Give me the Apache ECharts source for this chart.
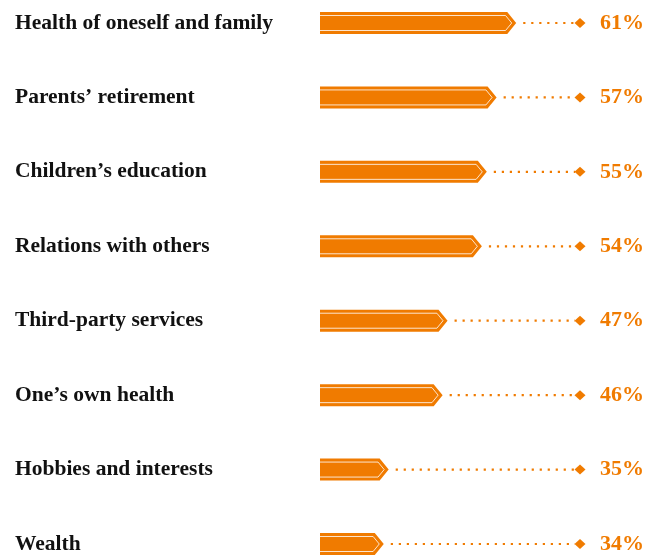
<!DOCTYPE html>
<html>
<head>
<meta charset="utf-8">
<script src="https://cdn.jsdelivr.net/npm/echarts@6/dist/echarts.min.js"></script>
<style>
  html, body { margin: 0; padding: 0; background: #fff; }
  #chart { width: 656px; height: 555px; }
</style>
</head>
<body>
<div id="chart"></div>
<script>
// Share of respondents naming each concern (%)
const categories = [
  'Health of oneself and family',
  'Parents\u2019 retirement',
  'Children\u2019s education',
  'Relations with others',
  'Third-party services',
  'One\u2019s own health',
  'Hobbies and interests',
  'Wealth'
];
const shares = [61, 57, 55, 54, 47, 46, 35, 34];

const ORANGE = '#F07B00';
const SERIF = '"Liberation Serif", "DejaVu Serif", serif';
const BAR_H = 22;
const ARROW = 9;

const chart = echarts.init(document.getElementById('chart'), null, { renderer: 'canvas' });

function renderArrowBar(params, api) {
  const idx = api.value(1);
  const val = api.value(0);
  const tip = api.coord([val, idx]);
  const cs = params.coordSys;
  const left = cs.x;
  const right = cs.x + cs.width;
  const cy = tip[1];
  const hh = BAR_H / 2;
  const tx = tip[0];
  const bodyEnd = tx - ARROW;

  // inner outline, inset from the outer edge
  const d = 3.5;
  const ihh = hh - d;
  const itip = tx - d * Math.sqrt(hh * hh + ARROW * ARROW) / hh;
  const icorner = itip - ARROW * ihh / hh;

  return {
    type: 'group',
    children: [
      {
        type: 'polygon',
        shape: { points: [[left, cy - hh], [bodyEnd, cy - hh], [tx, cy], [bodyEnd, cy + hh], [left, cy + hh]] },
        style: { fill: ORANGE }
      },
      {
        type: 'polyline',
        shape: { points: [[left, cy - ihh], [icorner, cy - ihh], [itip, cy], [icorner, cy + ihh], [left, cy + ihh]] },
        style: { fill: null, stroke: 'rgba(255,255,255,0.8)', lineWidth: 1 }
      },
      {
        type: 'line',
        shape: { x1: tx + 7, y1: cy, x2: right - 5, y2: cy },
        style: { stroke: ORANGE, lineWidth: 2.2, lineDash: [2.2, 5.8] }
      },
      {
        type: 'polygon',
        shape: { points: [[right - 5.5, cy], [right, cy - 5], [right + 5.5, cy], [right, cy + 5]] },
        style: { fill: ORANGE }
      },
      {
        type: 'text',
        x: right + 20,
        y: cy,
        style: {
          text: val + '%',
          fill: ORANGE,
          font: 'bold 22px ' + SERIF,
          textAlign: 'left',
          textVerticalAlign: 'middle'
        }
      }
    ]
  };
}

chart.setOption({
  animation: false,
  grid: { left: 320, right: 76, top: 23, bottom: 10, containLabel: false },
  xAxis: {
    type: 'value',
    min: 21,
    max: 74,
    show: false,
    splitLine: { show: false }
  },
  yAxis: {
    type: 'category',
    data: categories,
    inverse: true,
    boundaryGap: false,
    axisLine: { show: false },
    axisTick: { show: false },
    splitLine: { show: false },
    axisLabel: {
      align: 'left',
      margin: 305,
      color: '#111',
      fontFamily: SERIF,
      fontWeight: 'bold',
      fontSize: 21.5
    }
  },
  series: [{
    type: 'custom',
    renderItem: renderArrowBar,
    clip: false,
    encode: { x: 0, y: 1 },
    data: shares.map((v, i) => [v, i])
  }]
});
</script>
</body>
</html>
